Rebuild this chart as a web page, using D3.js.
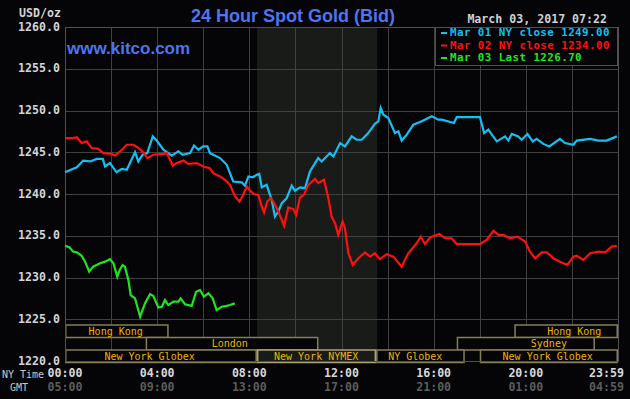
<!doctype html>
<html>
<head>
<meta charset="utf-8">
<script src="https://cdnjs.cloudflare.com/ajax/libs/d3/7.8.5/d3.min.js"></script>
<style>
html, body { margin: 0; padding: 0; background: #050507; }
svg { display: block; }
.mono { font-family: "DejaVu Sans Mono", "Liberation Mono", monospace; }
</style>
</head>
<body>
<svg id="chart" width="630" height="399"></svg>
<script>
// hours since NY midnight, spot price in USD/oz
var mar01Hours = [0, 0.51, 0.79, 1.09, 1.38, 1.64, 1.74, 1.95, 2.24, 2.46, 2.68, 3.04, 3.18, 3.37, 3.57, 3.81, 3.98,
  4.27, 4.63, 4.92, 5.11, 5.43, 5.60, 5.79, 6.00, 6.18, 6.29, 6.73, 7.02, 7.30, 7.67, 7.81, 7.96, 8.15, 8.32, 8.43,
  8.54, 8.75, 8.97, 9.11, 9.26, 9.41, 9.62, 9.84, 9.98, 10.20, 10.42, 10.63, 10.99, 11.14, 11.50, 11.65, 11.94,
  12.15, 12.44, 12.66, 12.88, 13.16, 13.45, 13.60, 13.70, 13.82, 14.03, 14.32, 14.47, 14.61, 14.83, 15.12, 15.48,
  15.92, 16.20, 16.35, 16.88, 17.00, 18.01, 18.19, 18.37, 18.74, 19.10, 19.24, 19.39, 19.67, 19.82, 20.07, 20.30,
  20.47, 20.76, 21.02, 21.48, 21.70, 22.06, 22.21, 22.79, 23.15, 23.51, 23.95];
var mar01Price = [1242.6, 1243.2, 1244.0, 1243.9, 1244.2, 1244.2, 1243.3, 1243.7, 1242.6, 1243.0, 1242.9, 1245.0, 1243.9,
  1244.7, 1244.9, 1246.9, 1246.4, 1245.3, 1244.6, 1245.1, 1244.7, 1244.9, 1245.8, 1245.3, 1245.7, 1245.7, 1244.9,
  1244.3, 1243.5, 1241.5, 1241.4, 1241.0, 1242.1, 1242.0, 1242.3, 1242.4, 1240.8, 1241.1, 1239.3, 1237.3, 1237.9,
  1238.9, 1239.5, 1241.0, 1240.4, 1240.8, 1240.7, 1242.7, 1244.3, 1243.9, 1244.9, 1244.5, 1246.1, 1245.7, 1246.9,
  1246.5, 1246.5, 1247.3, 1248.4, 1248.7, 1250.3, 1249.5, 1249.1, 1247.3, 1247.5, 1246.4, 1247.1, 1248.3, 1248.7,
  1249.3, 1248.9, 1248.9, 1248.5, 1249.2, 1249.2, 1247.3, 1247.7, 1246.3, 1246.9, 1246.4, 1247.2, 1246.9, 1246.5,
  1247.2, 1246.3, 1246.6, 1246.0, 1245.7, 1246.6, 1246.1, 1245.9, 1246.4, 1246.6, 1246.4, 1246.4, 1246.9];

var mar02Hours = [0, 0.35, 0.51, 0.72, 0.94, 1.16, 1.44, 1.66, 2.03, 2.17, 2.39, 2.68, 2.97, 3.14, 3.40, 3.57, 3.83,
  4.27, 4.41, 4.68, 4.85, 5.14, 5.35, 5.72, 6.00, 6.29, 6.43, 6.73, 6.94, 7.16, 7.38, 7.57, 7.71, 7.89, 8.03, 8.20,
  8.39, 8.54, 8.64, 8.78, 8.93, 9.04, 9.26, 9.51, 9.69, 9.91, 10.03, 10.20, 10.37, 10.56, 10.85, 10.99, 11.24, 11.43,
  11.57, 11.72, 11.86, 12.05, 12.15, 12.30, 12.49, 12.73, 13.02, 13.24, 13.45, 13.67, 13.96, 14.25, 14.61, 14.90,
  15.26, 15.44, 15.62, 15.84, 16.24, 16.50, 16.78, 17.00, 18.01, 18.30, 18.59, 18.81, 19.02, 19.31, 19.63, 19.97,
  20.18, 20.40, 20.69, 20.91, 21.20, 21.48, 21.80, 22.06, 22.21, 22.50, 22.79, 23.15, 23.44, 23.73, 23.95];
var mar02Price = [1246.7, 1246.7, 1246.8, 1246.1, 1246.3, 1245.5, 1245.4, 1244.9, 1244.8, 1244.6, 1245.1, 1245.9, 1245.9,
  1245.6, 1245.0, 1244.3, 1244.7, 1244.8, 1244.9, 1243.4, 1243.7, 1244.0, 1243.6, 1243.7, 1243.3, 1243.1, 1242.5,
  1242.1, 1241.7, 1241.1, 1239.7, 1239.1, 1239.8, 1240.9, 1240.4, 1240.0, 1239.9, 1238.5, 1237.8, 1239.1, 1239.5,
  1239.1, 1237.9, 1236.2, 1238.4, 1238.2, 1237.5, 1239.6, 1239.9, 1241.1, 1241.8, 1241.3, 1241.7, 1239.5, 1237.3,
  1236.5, 1235.1, 1236.7, 1235.9, 1232.9, 1231.5, 1232.3, 1233.0, 1232.5, 1232.9, 1232.2, 1232.8, 1232.5, 1231.3,
  1232.9, 1234.1, 1234.9, 1234.0, 1234.8, 1235.2, 1234.7, 1234.7, 1234.0, 1234.0, 1234.5, 1235.6, 1235.1, 1235.1,
  1234.7, 1234.9, 1234.3, 1233.1, 1232.3, 1233.0, 1233.0, 1232.3, 1231.9, 1231.5, 1232.5, 1232.6, 1232.1, 1232.9,
  1233.1, 1233.0, 1233.7, 1233.8];

var mar03Hours = [0, 0.20, 0.35, 0.53, 0.72, 0.87, 1.05, 1.22, 1.52, 1.74, 1.95, 2.10, 2.27, 2.39, 2.50, 2.60, 2.75,
  2.85, 3.04, 3.26, 3.47, 3.69, 3.83, 4.05, 4.20, 4.34, 4.48, 4.70, 4.92, 5.02, 5.21, 5.50, 5.69, 5.86, 6.03, 6.22,
  6.41, 6.58, 6.80, 7.02, 7.16, 7.37];
var mar03Price = [1233.8, 1233.6, 1233.1, 1233.0, 1232.6, 1231.9, 1230.7, 1231.3, 1231.7, 1231.9, 1232.2, 1231.7,
  1230.1, 1231.0, 1231.5, 1231.3, 1229.7, 1227.9, 1227.5, 1225.3, 1226.9, 1228.0, 1227.8, 1226.4, 1226.5, 1227.3,
  1226.7, 1227.1, 1227.1, 1227.5, 1226.8, 1226.6, 1228.3, 1228.5, 1227.7, 1228.1, 1227.5, 1226.1, 1226.5, 1226.6,
  1226.7, 1226.9];

var seriesNames = ["Mar 01 NY close 1249.00", "Mar 02 NY close 1234.00", "Mar 03 Last 1226.70"];
var seriesColors = ["#14bff2", "#ff1010", "#1ee61e"];

var yTicks = [1220, 1225, 1230, 1235, 1240, 1245, 1250, 1255, 1260];
var nyTimeTicks = [0, 4, 8, 12, 16, 20, 24];
var nyTimeLabels = ["00:00", "04:00", "08:00", "12:00", "16:00", "20:00", "23:59"];
var gmtLabels = ["05:00", "09:00", "13:00", "17:00", "21:00", "01:00", "04:59"];

// trading sessions: row, start hour, end hour, label hour
var sessionNames = ["Hong Kong", "Hong Kong", "London", "Sydney", "New York Globex", "New York NYMEX", "NY Globex", "New York Globex"];
var sessionRow = [0, 0, 1, 1, 2, 2, 2, 2];
var sessionStart = [0, 19.5, 3.5, 17, 0, 8.33, 13.5, 18];
var sessionEnd = [4.5, 24, 11, 23, 8.33, 13.5, 17.35, 24];
var sessionLabelAt = [2.2, 22.1, 7.15, 21.0, 3.67, 10.9, 15.2, 20.95];
var pitOpen = 8.33, pitClose = 13.55;

var svg = d3.select("#chart");
var x = d3.scaleLinear().domain([0, 24]).range([65, 618]);
var y = d3.scaleLinear().domain([1220, 1260]).range([361, 27]);

svg.append("rect").attr("width", 630).attr("height", 399).attr("fill", "#050507");

// NYMEX pit hours shade
svg.append("rect")
  .attr("x", x(pitOpen)).attr("y", y(1260))
  .attr("width", x(pitClose) - x(pitOpen)).attr("height", y(1220) - y(1260))
  .attr("fill", "#191b18");

// grid
var grid = svg.append("g").attr("stroke", "#404040").attr("stroke-width", 1);
grid.selectAll("line.v").data(d3.range(2, 24, 2)).enter().append("line")
  .attr("x1", d => Math.round(x(d)) + 0.5).attr("x2", d => Math.round(x(d)) + 0.5)
  .attr("y1", y(1260)).attr("y2", y(1220));
grid.selectAll("line.h").data(yTicks.slice(1, -1)).enter().append("line")
  .attr("x1", x(0)).attr("x2", x(24))
  .attr("y1", d => Math.round(y(d)) + 0.5).attr("y2", d => Math.round(y(d)) + 0.5);

// sessions
var sessions = sessionNames.map((n, i) => ({name: n, row: sessionRow[i], s: sessionStart[i], e: sessionEnd[i], at: sessionLabelAt[i]}));
var rowTop = [325, 337.5, 350];
var rowH = 12.5;
var sg = svg.append("g").selectAll("g").data(sessions).enter().append("g");
sg.append("rect")
  .attr("x", d => x(d.s) + 0.75).attr("y", d => rowTop[d.row])
  .attr("width", d => x(d.e) - x(d.s) - 1.5).attr("height", rowH)
  .attr("fill", d => d.name == "New York NYMEX" ? "#191b18" : "#050507")
  .attr("stroke", d => d.name == "New York NYMEX" ? "#aaa474" : "#857f55")
  .attr("stroke-width", 1.5);
sg.append("text")
  .attr("class", "mono")
  .attr("x", d => x(d.at)).attr("y", d => rowTop[d.row] + rowH / 2 + 0.5)
  .attr("text-anchor", "middle").attr("dominant-baseline", "middle")
  .attr("font-size", "10px").attr("fill", "#eeb400")
  .text(d => d.name);

// plot frame
svg.append("rect")
  .attr("x", x(0) + 0.5).attr("y", y(1260) + 0.5)
  .attr("width", x(24) - x(0)).attr("height", y(1220) - y(1260))
  .attr("fill", "none").attr("stroke", "#505050");

// price lines
var line = d3.line().x(d => x(d[0])).y(d => y(d[1]));
var series = [
  d3.zip(mar01Hours, mar01Price),
  d3.zip(mar02Hours, mar02Price),
  d3.zip(mar03Hours, mar03Price)
];
svg.append("g").selectAll("path").data(series).enter().append("path")
  .attr("d", line)
  .attr("fill", "none")
  .attr("stroke", (d, i) => seriesColors[i])
  .attr("stroke-width", 2.2)
  .attr("stroke-linejoin", "miter");

// legend box
svg.append("rect")
  .attr("x", 435.5).attr("y", y(1260) + 0.5).attr("width", 182).attr("height", 38)
  .attr("fill", "#050507").attr("stroke", "#505050");
var legY = [33, 45.5, 58];
var leg = svg.append("g").selectAll("g").data(seriesNames).enter().append("g");
leg.append("line")
  .attr("x1", 441).attr("x2", 447)
  .attr("y1", (d, i) => legY[i]).attr("y2", (d, i) => legY[i])
  .attr("stroke", (d, i) => seriesColors[i]).attr("stroke-width", 2);
leg.append("text")
  .attr("class", "mono")
  .attr("x", 450).attr("y", (d, i) => legY[i])
  .attr("dominant-baseline", "middle")
  .attr("font-size", "10.8px").attr("font-weight", "bold")
  .attr("letter-spacing", "0.45px")
  .attr("fill", (d, i) => seriesColors[i])
  .text(d => d);

// y axis labels
svg.append("g").selectAll("text").data(yTicks).enter().append("text")
  .attr("class", "mono")
  .attr("x", 60).attr("y", d => y(d))
  .attr("text-anchor", "end").attr("dominant-baseline", "middle")
  .attr("font-size", "11.6px").attr("font-weight", "bold").attr("fill", "#d4d4d4")
  .text(d => d.toFixed(1));
svg.append("text").attr("class", "mono")
  .attr("x", 61).attr("y", 13).attr("text-anchor", "end").attr("dominant-baseline", "middle")
  .attr("font-size", "11.6px").attr("font-weight", "bold").attr("fill", "#d4d4d4")
  .text("USD/oz");

// x axis labels (last one is pulled in to stay inside the picture)
var last = nyTimeTicks.length - 1;
function tickX(d, i) { return i == last ? x(d) + 6 : x(d); }
function tickAnchor(d, i) { return i == last ? "end" : "middle"; }
svg.append("g").selectAll("text").data(nyTimeTicks).enter().append("text")
  .attr("class", "mono")
  .attr("x", tickX).attr("y", 373)
  .attr("text-anchor", tickAnchor).attr("dominant-baseline", "middle")
  .attr("font-size", "11.6px").attr("font-weight", "bold").attr("fill", "#d8d8d8")
  .text((d, i) => nyTimeLabels[i]);
svg.append("g").selectAll("text").data(nyTimeTicks).enter().append("text")
  .attr("class", "mono")
  .attr("x", tickX).attr("y", 387)
  .attr("text-anchor", tickAnchor).attr("dominant-baseline", "middle")
  .attr("font-size", "11.6px").attr("font-weight", "bold").attr("fill", "#5c5c5c")
  .text((d, i) => gmtLabels[i]);
svg.append("text").attr("class", "mono")
  .attr("x", 2).attr("y", 375).attr("dominant-baseline", "middle")
  .attr("font-size", "10px").attr("fill", "#c8c8c8").text("NY Time");
svg.append("text").attr("class", "mono")
  .attr("x", 10).attr("y", 388).attr("dominant-baseline", "middle")
  .attr("font-size", "10px").attr("fill", "#c8c8c8").text("GMT");

// titles
svg.append("text")
  .attr("x", 293).attr("y", 22).attr("text-anchor", "middle")
  .attr("font-family", "Liberation Sans, Arial, sans-serif")
  .attr("font-size", "18px").attr("font-weight", "bold").attr("fill", "#4f74f2")
  .text("24 Hour Spot Gold (Bid)");
svg.append("text")
  .attr("x", 67).attr("y", 54)
  .attr("font-family", "Liberation Sans, Arial, sans-serif")
  .attr("font-size", "17px").attr("font-weight", "bold").attr("fill", "#4f74f2")
  .text("www.kitco.com");
svg.append("text").attr("class", "mono")
  .attr("x", 607).attr("y", 19).attr("text-anchor", "end").attr("dominant-baseline", "middle")
  .attr("font-size", "11.6px").attr("font-weight", "bold").attr("fill", "#d0d0d0")
  .text("March 03, 2017 07:22");
</script>
</body>
</html>
